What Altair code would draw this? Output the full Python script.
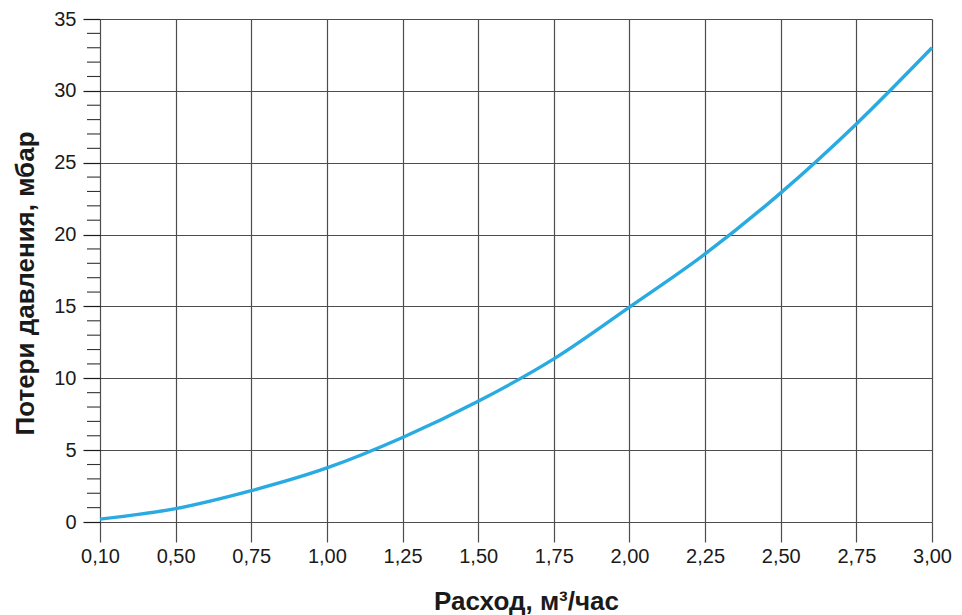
import altair as alt
import pandas as pd

# X tick labels (equally spaced positions on the chart)
flow_labels = ["0,10", "0,50", "0,75", "1,00", "1,25", "1,50",
               "1,75", "2,00", "2,25", "2,50", "2,75", "3,00"]
# Pressure loss (mbar) read at each flow gridline
pressure_loss = [0.2, 0.93, 2.18, 3.76, 5.88, 8.4,
                 11.35, 14.95, 18.65, 22.9, 27.7, 33.0]
# Y ticks
y_major = [0, 5, 10, 15, 20, 25, 30, 35]
y_minor = [1, 2, 3, 4, 6, 7, 8, 9, 11, 12, 13, 14, 16, 17, 18, 19,
           21, 22, 23, 24, 26, 27, 28, 29, 31, 32, 33, 34]

positions = list(range(len(flow_labels)))
curve_df = pd.DataFrame({"pos": positions, "loss": pressure_loss})
minor_df = pd.DataFrame({"loss": y_minor})

label_array = "[" + ",".join("'" + s + "'" for s in flow_labels) + "]"

FONT = "Liberation Sans"
GRID = "#4d4d4d"
TEXT = "#1a1a1a"

x_scale = alt.Scale(domain=[0, len(flow_labels) - 1], nice=False, zero=False)
y_scale = alt.Scale(domain=[0, 35], nice=False)

y_axis = alt.Axis(values=y_major,
                  title="Потери давления, мбар",
                  grid=True, gridColor=GRID, gridWidth=1.2,
                  domain=False, tickSize=17, tickColor=TEXT, tickWidth=1.2,
                  labelFontSize=20, labelPadding=7, labelColor=TEXT,
                  labelFlush=False,
                  titleFontSize=26, titleFontWeight="bold", titleColor=TEXT,
                  titleY=264,
                  titlePadding=15)

line = alt.Chart(curve_df).mark_line(
    color="#29ABE2", strokeWidth=3.4, interpolate="monotone"
).encode(
    x=alt.X("pos:Q", scale=x_scale,
            axis=alt.Axis(values=positions,
                          labelExpr=label_array + "[datum.value]",
                          title="Расход, м³/час",
                          grid=True, gridColor=GRID, gridWidth=1.2,
                          domain=False, tickSize=20, tickColor=GRID, tickWidth=1.2,
                          labelFontSize=20, labelPadding=4, labelColor=TEXT,
                          labelFlush=False,
                          titleFontSize=26, titleFontWeight="bold", titleColor=TEXT,
                          titleX=426,
                          titlePadding=22)),
    y=alt.Y("loss:Q", scale=y_scale, axis=y_axis),
)

minor = alt.Chart(minor_df).mark_rule(color="#333333", strokeWidth=1.1).encode(
    y=alt.Y("loss:Q", scale=y_scale, axis=y_axis),
    x=alt.value(-13),
    x2=alt.value(0),
)

chart = alt.layer(line, minor).properties(
    width=832,
    height=503,
    autosize=alt.AutoSizeParams(type="none"),
    padding={"left": 92, "top": 11, "right": 22, "bottom": 94},
).configure(
    font=FONT,
).configure_view(
    stroke=None,
).configure_axis(
    labelFont=FONT, titleFont=FONT,
)

chart.save("out.html", embed_options={"renderer": "svg", "actions": False})
